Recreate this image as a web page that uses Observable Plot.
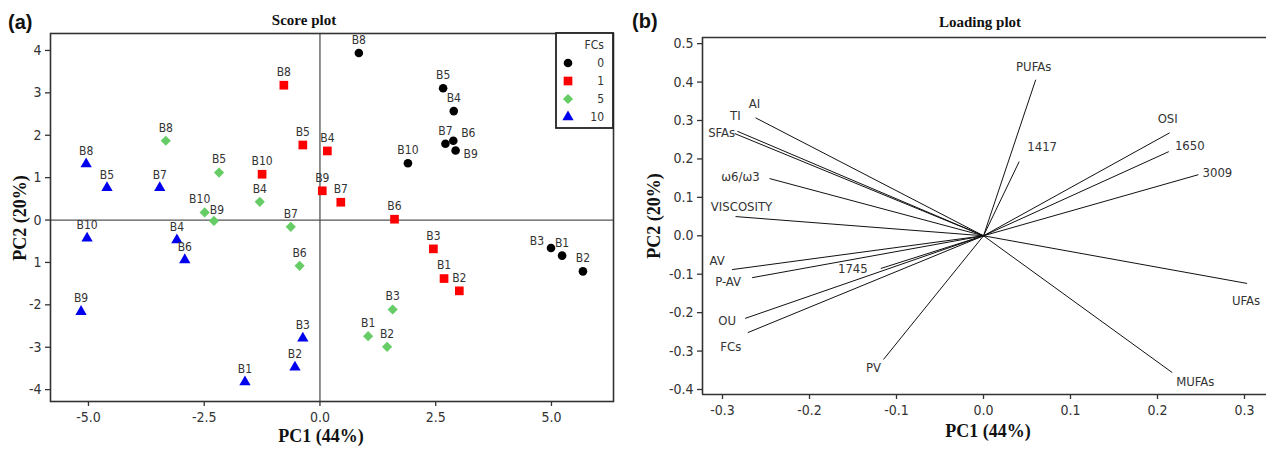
<!DOCTYPE html>
<html><head><meta charset="utf-8">
<script src="https://cdn.jsdelivr.net/npm/d3@7"></script>
<script src="https://cdn.jsdelivr.net/npm/@observablehq/plot@0.6"></script>
<style>
body{margin:0;background:#fff;}
#wrap{position:relative;width:1266px;height:449px;overflow:hidden;background:#fff;}
#a,#b{position:absolute;top:0;}
#a{left:0px;} #b{left:630px;}
#overlay{position:absolute;left:0;top:0;}
</style></head>
<body><div id="wrap"><div id="a"></div><div id="b"></div></div>
<script>
// ---------- Score plot data ----------
const batches = ["B1","B2","B3","B4","B5","B6","B7","B8","B9","B10"];
const fcLevels = ["0","1","5","10"];
const pc1FC0 = [5.23, 5.68, 4.99, 2.89, 2.66, 2.88, 2.71, 0.84, 2.93, 1.90];
const pc2FC0 = [-0.84, -1.21, -0.66, 2.57, 3.11, 1.87, 1.80, 3.94, 1.64, 1.34];
const pc1FC1 = [2.68, 3.01, 2.45, 0.16, -0.37, 1.61, 0.45, -0.78, 0.05, -1.25];
const pc2FC1 = [-1.38, -1.67, -0.68, 1.63, 1.77, 0.02, 0.42, 3.18, 0.69, 1.08];
const pc1FC5 = [1.04, 1.45, 1.57, -1.30, -2.18, -0.44, -0.63, -3.33, -2.29, -2.49];
const pc2FC5 = [-2.74, -2.99, -2.11, 0.43, 1.12, -1.08, -0.16, 1.87, -0.02, 0.18];
const pc1FC10 = [-1.62, -0.54, -0.37, -3.09, -4.60, -2.92, -3.46, -5.05, -5.16, -5.03];
const pc2FC10 = [-3.82, -3.47, -2.79, -0.47, 0.76, -0.94, 0.76, 1.32, -2.16, -0.43];
const scoreXTicks = [-5, -2.5, 0, 2.5, 5];
const scoreXTickLabels = ["-5.0", "-2.5", "0.0", "2.5", "5.0"];
const scoreYTicks = [-4, -3, -2, -1, 0, 1, 2, 3, 4];
const scoreYTickLabels = ["-4", "-3", "-2", "1", "0", "1", "2", "3", "4"];

// ---------- Loading plot data ----------
const loadNames = ["AI","TI","SFAs","ω6/ω3","VISCOSITY","AV","P-AV","1745","OU","FCs","PV","PUFAs","1417","OSI","1650","3009","UFAs","MUFAs"];
const loadPC1 = [-0.262, -0.283, -0.286, -0.246, -0.285, -0.289, -0.266, -0.118, -0.274, -0.271, -0.115, 0.060, 0.041, 0.214, 0.213, 0.247, 0.303, 0.217];
const loadPC2 = [0.307, 0.272, 0.266, 0.149, 0.050, -0.088, -0.109, -0.085, -0.215, -0.252, -0.322, 0.406, 0.193, 0.268, 0.219, 0.159, -0.124, -0.356];
const loadXTicks = [-0.3, -0.2, -0.1, 0, 0.1, 0.2, 0.3];
const loadYTicks = [-0.4, -0.3, -0.2, -0.1, 0, 0.1, 0.2, 0.3, 0.4, 0.5];

// ---------- build tables ----------
const pc1ByFC = [pc1FC0, pc1FC1, pc1FC5, pc1FC10];
const pc2ByFC = [pc2FC0, pc2FC1, pc2FC5, pc2FC10];
const scoreRows = [];
fcLevels.forEach((fc, i) => batches.forEach((b, j) =>
  scoreRows.push({fc, batch: b, x: pc1ByFC[i][j], y: pc2ByFC[i][j]})));
const loadRows = loadNames.map((n, i) => ({name: n, x: loadPC1[i], y: loadPC2[i]}));

const SANS = "'DejaVu Sans Condensed', 'DejaVu Sans', sans-serif";
const SERIF = "'Liberation Serif', 'DejaVu Serif', serif";
const style = {
  fc: {
    "0":  {symbol: "circle",   fill: "#000000", r: 4.3, d3s: d3.symbolCircle},
    "1":  {symbol: "square",   fill: "#ff0000", r: 4.9, d3s: d3.symbolSquare},
    "5":  {symbol: "diamond2", fill: "#66cc66", r: 4.6, d3s: d3.symbolDiamond2},
    "10": {symbol: "triangle", fill: "#0000ee", r: 4.2, d3s: d3.symbolTriangle}
  }
};

// score label offsets (pixels) for the labels not centred just above their point
const scoreLabelOffsets = {"0-B3": [-14, -7], "0-B6": [15, -8], "0-B9": [15, 4],
                           "5-B10": [-5, -13], "5-B9": [3, -11]};
// loading label offsets (pixels)
const loadLabelOffsets = {
  "AI": [-1, -14], "TI": [-2, -15], "SFAs": [-13, -1], "ω6/ω3": [-29, -2],
  "VISCOSITY": [6, -10], "AV": [-15, -9], "P-AV": [-24, 4], "1745": [-28, 0],
  "OU": [-18, 2], "FCs": [-17, 14], "PV": [-10, 8], "PUFAs": [-2, -13],
  "1417": [23, -15], "OSI": [-2, -14], "1650": [21, -6], "3009": [19, -2],
  "UFAs": [-1, 17], "MUFAs": [23, 9]
};

// ---------- Plot A : Score plot ----------
const dotMarks = fcLevels.map(fc => Plot.dot(scoreRows.filter(d => d.fc === fc), {
  x: "x", y: "y", symbol: style.fc[fc].symbol, r: style.fc[fc].r,
  fill: style.fc[fc].fill, stroke: "none"
}));
const isException = d => (d.fc + "-" + d.batch) in scoreLabelOffsets;
const scoreLabelMarks = [
  Plot.text(scoreRows.filter(d => !isException(d)), {
    x: "x", y: "y", text: "batch", dy: -13, fontSize: 12, fill: "#333",
    fontFamily: SANS, textAnchor: "middle", lineAnchor: "middle"
  }),
  ...Object.entries(scoreLabelOffsets).map(([k, [dx, dy]]) =>
    Plot.text(scoreRows.filter(d => (d.fc + "-" + d.batch) === k), {
      x: "x", y: "y", text: "batch", dx, dy, fontSize: 12, fill: "#333",
      fontFamily: SANS, textAnchor: "middle", lineAnchor: "middle"
    }))
];

const plotA = Plot.plot({
  width: 630, height: 449,
  marginLeft: 50, marginRight: 17, marginTop: 33, marginBottom: 48,
  x: {domain: [-5.82, 6.34]},
  y: {domain: [-4.28, 4.40]},
  style: {fontFamily: SANS, fontSize: "14px", color: "#333", background: "transparent", overflow: "visible"},
  marks: [
    Plot.ruleX([0], {stroke: "#555", strokeWidth: 1.3}),
    Plot.ruleY([0], {stroke: "#555", strokeWidth: 1.3}),
    Plot.frame({stroke: "#333", strokeWidth: 1.6}),
    Plot.axisX({ticks: scoreXTicks, tickFormat: d => scoreXTickLabels[scoreXTicks.indexOf(d)],
      tickSize: 5, tickPadding: 6, label: null, fontSize: 14, strokeWidth: 1.3}),
    Plot.axisY({ticks: scoreYTicks, tickFormat: d => scoreYTickLabels[scoreYTicks.indexOf(d)],
      tickSize: 5, tickPadding: 4, label: null, fontSize: 14, strokeWidth: 1.3}),
    ...dotMarks,
    ...scoreLabelMarks
  ]
});
document.getElementById("a").appendChild(plotA);

// ---------- Plot B : Loading plot ----------
const xDomB = [-0.323, 0.3253], yDomB = [-0.413, 0.516];
const plotB = Plot.plot({
  width: 636, height: 449,
  marginLeft: 72, marginRight: 0, marginTop: 37, marginBottom: 55,
  x: {domain: xDomB},
  y: {domain: yDomB},
  style: {fontFamily: SANS, fontSize: "14px", color: "#333", background: "transparent", overflow: "visible"},
  marks: [
    Plot.ruleY([yDomB[1]], {stroke: "#333", strokeWidth: 1.6}),
    Plot.ruleY([yDomB[0]], {stroke: "#333", strokeWidth: 1.6}),
    Plot.ruleX([xDomB[0]], {stroke: "#333", strokeWidth: 1.6}),
    Plot.axisX({ticks: loadXTicks, tickFormat: d => d.toFixed(1),
      tickSize: 5, tickPadding: 6, label: null, fontSize: 14, strokeWidth: 1.3}),
    Plot.axisY({ticks: loadYTicks, tickFormat: d => d.toFixed(1),
      tickSize: 5, tickPadding: 4, label: null, fontSize: 14, strokeWidth: 1.3}),
    Plot.link(loadRows, {x1: () => 0, y1: () => 0, x2: "x", y2: "y", stroke: "#111", strokeWidth: 1}),
    ...loadRows.map(r => {
      const [dx, dy] = loadLabelOffsets[r.name] || [0, -12];
      return Plot.text([r], {x: "x", y: "y", text: "name", dx, dy, fontSize: 13, fill: "#333",
        fontFamily: SANS, textAnchor: "middle", lineAnchor: "middle"});
    })
  ]
});
document.getElementById("b").appendChild(plotB);

// ---------- Overlay: panel letters, titles, axis titles, legend ----------
const svg = d3.select("#wrap").append("svg").attr("id", "overlay")
  .attr("width", 1266).attr("height", 449);
const t = (x, y, s, font, size, anchor, weight, rot) => {
  const e = svg.append("text").attr("font-family", font).attr("font-size", size)
    .attr("font-weight", weight || "normal").attr("text-anchor", anchor).attr("fill", "#111").text(s);
  if (rot) e.attr("transform", `translate(${x},${y}) rotate(${rot})`);
  else e.attr("x", x).attr("y", y);
  return e;
};
t(8, 29, "(a)", "'Liberation Sans', Arial, sans-serif", 20, "start", "bold");
t(632, 28, "(b)", "'Liberation Sans', Arial, sans-serif", 20, "start", "bold");
t(304, 25, "Score plot", SERIF, 15, "middle", "bold");
t(980, 27, "Loading plot", SERIF, 15, "middle", "bold");
t(321, 442, "PC1 (44%)", SERIF, 18, "middle", "bold");
t(988, 437, "PC1 (44%)", SERIF, 18, "middle", "bold");
t(26, 218, "PC2 (20%)", SERIF, 18, "middle", "bold", -90);
t(660, 216, "PC2 (20%)", SERIF, 18, "middle", "bold", -90);

// legend
const lg = svg.append("g");
lg.append("rect").attr("x", 556).attr("y", 33).attr("width", 57).attr("height", 95)
  .attr("fill", "#fff").attr("stroke", "#222").attr("stroke-width", 1.8);
lg.append("text").attr("x", 604).attr("y", 49).attr("text-anchor", "end")
  .attr("font-family", SANS).attr("font-size", 12).attr("fill", "#333").text("FCs");
fcLevels.forEach((fc, i) => {
  const cy = 63 + i * 18;
  const s = style.fc[fc];
  lg.append("path").attr("d", d3.symbol(s.d3s, Math.PI * s.r * s.r)())
    .attr("transform", `translate(568,${cy})`).attr("fill", s.fill);
  lg.append("text").attr("x", 604).attr("y", cy).attr("dy", "0.35em").attr("text-anchor", "end")
    .attr("font-family", SANS).attr("font-size", 12).attr("fill", "#333").text(fc);
});
</script>
</body></html>
